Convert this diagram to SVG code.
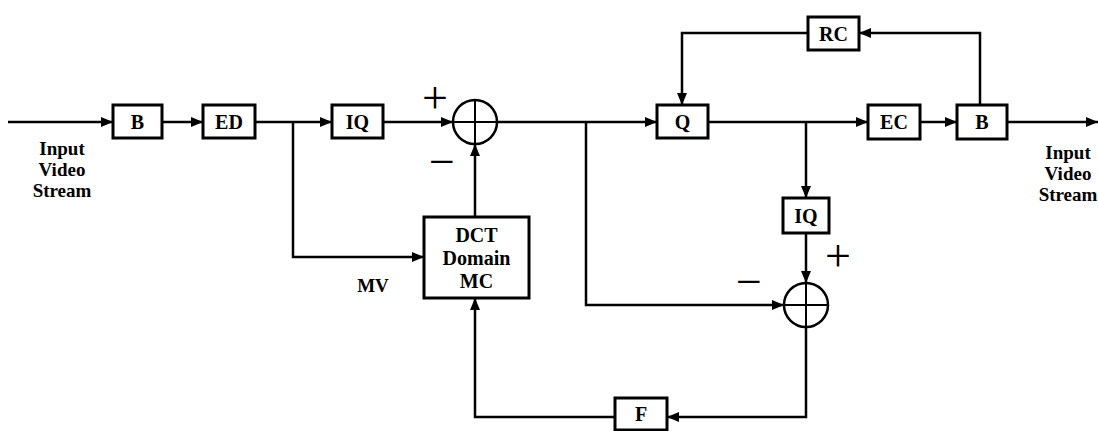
<svg xmlns="http://www.w3.org/2000/svg" width="1098" height="431" viewBox="0 0 1098 431">
<style>
.box{fill:#fff;stroke:#000;stroke-width:3}
.sum{fill:#fff;stroke:#000;stroke-width:2.5}
.cross{stroke:#000;stroke-width:2}
.wire{fill:none;stroke:#000;stroke-width:2.5}
.lbl{font-family:"Liberation Serif","Times New Roman",serif;font-weight:bold;font-size:19px;text-anchor:middle;fill:#000}
.big{font-size:20px}
.sign{font-family:"Liberation Serif","Times New Roman",serif;font-size:46px;text-anchor:middle;fill:#000}
</style>
<defs>
<marker id="ah" viewBox="0 0 12 10" refX="12" refY="5" markerWidth="12" markerHeight="10" markerUnits="userSpaceOnUse" orient="auto">
<path d="M0,0 L12,5 L0,10 z" fill="#000"/>
</marker>
</defs>
<rect width="1098" height="431" fill="#fff"/>
<g id="connectors">
<path class="wire" d="M8,122 H113" marker-end="url(#ah)"/>
<path class="wire" d="M162,122 H203" marker-end="url(#ah)"/>
<path class="wire" d="M255,122 H332" marker-end="url(#ah)"/>
<path class="wire" d="M383,122 H453" marker-end="url(#ah)"/>
<path class="wire" d="M293,122 V257 H424" marker-end="url(#ah)"/>
<path class="wire" d="M475,217 V144" marker-end="url(#ah)"/>
<path class="wire" d="M497,122 H657" marker-end="url(#ah)"/>
<path class="wire" d="M586,122 V305 H784" marker-end="url(#ah)"/>
<path class="wire" d="M708,122 H868" marker-end="url(#ah)"/>
<path class="wire" d="M806,122 V198" marker-end="url(#ah)"/>
<path class="wire" d="M920,122 H957" marker-end="url(#ah)"/>
<path class="wire" d="M1007,122 H1098" marker-end="url(#ah)"/>
<path class="wire" d="M980,105 V33 H859" marker-end="url(#ah)"/>
<path class="wire" d="M808,33 H682 V105" marker-end="url(#ah)"/>
<path class="wire" d="M806,233 V283" marker-end="url(#ah)"/>
<path class="wire" d="M806,327 V417 H667" marker-end="url(#ah)"/>
<path class="wire" d="M615,417 H475 V298" marker-end="url(#ah)"/>
</g>
<g id="node-B1"><rect class="box" x="113" y="105" width="49" height="33"/><text class="lbl big" x="137.5" y="129">B</text></g>
<g id="node-ED"><rect class="box" x="203" y="105" width="52" height="33"/><text class="lbl big" x="229" y="129">ED</text></g>
<g id="node-IQ1"><rect class="box" x="332" y="105" width="51" height="33"/><text class="lbl big" x="357.5" y="129">IQ</text></g>
<g id="node-SUM1"><circle class="sum" cx="475" cy="122" r="22"/><path class="cross" d="M453,122 H497 M475,100 V144"/></g>
<g id="node-DCT"><rect class="box" x="424" y="217" width="105" height="81"/><text class="lbl big" x="476.5" y="242">DCT</text><text class="lbl big" x="476.5" y="265">Domain</text><text class="lbl big" x="476.5" y="288">MC</text></g>
<g id="node-Q"><rect class="box" x="657" y="105" width="51" height="33"/><text class="lbl big" x="682.5" y="129">Q</text></g>
<g id="node-RC"><rect class="box" x="808" y="17" width="51" height="33"/><text class="lbl big" x="833.5" y="41">RC</text></g>
<g id="node-EC"><rect class="box" x="868" y="105" width="52" height="34"/><text class="lbl big" x="894" y="129">EC</text></g>
<g id="node-B2"><rect class="box" x="957" y="105" width="50" height="34"/><text class="lbl big" x="982" y="129">B</text></g>
<g id="node-IQ2"><rect class="box" x="783" y="198" width="46" height="35"/><text class="lbl big" x="806" y="223">IQ</text></g>
<g id="node-SUM2"><circle class="sum" cx="806" cy="305" r="22"/><path class="cross" d="M784,305 H828 M806,283 V327"/></g>
<g id="node-F"><rect class="box" x="615" y="398" width="52" height="32"/><text class="lbl big" x="641" y="421">F</text></g>
<g id="labels">
<text class="lbl" x="62" y="155">Input</text>
<text class="lbl" x="62" y="176">Video</text>
<text class="lbl" x="62" y="197">Stream</text>
<text class="lbl" x="1068" y="159">Input</text>
<text class="lbl" x="1068" y="180">Video</text>
<text class="lbl" x="1068" y="201">Stream</text>
<text class="lbl" x="373" y="292">MV</text>
<text class="sign" x="435" y="113">+</text>
<text class="sign" x="442" y="177">−</text>
<text class="sign" x="838" y="271">+</text>
<text class="sign" x="749" y="297">−</text>
</g>
</svg>
